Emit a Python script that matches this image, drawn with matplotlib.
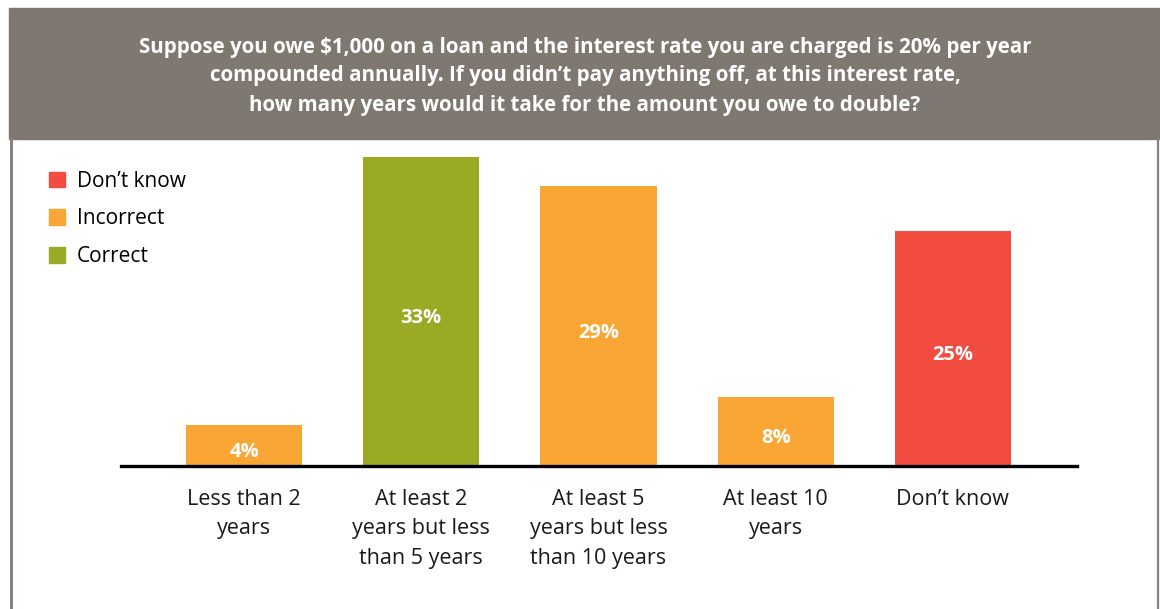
import matplotlib.pyplot as plt
from matplotlib.patches import Rectangle, Patch
from matplotlib.lines import Line2D

# data
categories = ['Less than 2\nyears', 'At least 2\nyears but less\nthan 5 years',
              'At least 5\nyears but less\nthan 10 years', 'At least 10\nyears', 'Don\u2019t know']
shares = [4.4, 32.9, 29.8, 7.3, 25.0]
shareLabels = ['4%', '33%', '29%', '8%', '25%']
answerKind = ['Incorrect', 'Correct', 'Incorrect', 'Incorrect', 'Don\u2019t know']

kindColors = {'Don\u2019t know': '#f24c40', 'Incorrect': '#f9a634', 'Correct': '#9aaa24'}
title = ('Suppose you owe $1,000 on a loan and the interest rate you are charged is 20% per year\n'
         'compounded annually. If you didn\u2019t pay anything off, at this interest rate,\n'
         'how many years would it take for the amount you owe to double?')

plt.rcParams['font.family'] = ['Open Sans', 'DejaVu Sans']

W, H = 1160, 609
fig = plt.figure(figsize=(W / 100, H / 100), dpi=100)

# header band and frame
fig.patches.append(Rectangle((9 / W, (H - 139) / H), (W - 9) / W, 131 / H,
                             transform=fig.transFigure, color='#7f7871', zorder=0))
fig.add_artist(Line2D([10.5 / W, 10.5 / W], [0, (H - 139) / H], color='#8a837d', lw=2.2))
fig.add_artist(Line2D([1158 / W, 1158 / W], [0, (H - 139) / H], color='#8a837d', lw=1.6))
fig.text(585 / W, (H - 76) / H, title, color='white', fontsize=14.8, fontweight='bold',
         ha='center', va='center', linespacing=1.5)

ax = fig.add_axes([121 / W, (H - 466) / H, (1077 - 121) / W, 309 / H])
x = list(range(len(categories)))
colors = [kindColors[k] for k in answerKind]
ax.bar(x, shares, width=0.655, color=colors, zorder=1)
ax.axhline(0, color='black', lw=2.4, zorder=3, clip_on=False)
ax.set_xlim(-0.694, 4.70)
ax.set_ylim(0, 32.9)
for xi, v, lab in zip(x, shares, shareLabels):
    ax.text(xi, v / 2 - 0.7, lab, color='white', fontsize=14.5, fontweight='bold',
            ha='center', va='center')
for xi, cat in zip(x, categories):
    ax.text(xi, -2.4, cat, ha='center', va='top', fontsize=15.5, color='#1a1a1a',
            linespacing=1.55)
for s in ax.spines.values():
    s.set_visible(False)
ax.set_xticks([])
ax.set_yticks([])

handles = [Patch(color=kindColors[k]) for k in ['Don\u2019t know', 'Incorrect', 'Correct']]
fig.legend(handles, ['Don\u2019t know', 'Incorrect', 'Correct'], loc='upper left',
           bbox_to_anchor=(30 / W, (H - 152) / H), frameon=False, fontsize=15,
           handlelength=0.8, handleheight=0.8, handletextpad=0.55, labelspacing=0.8)

fig.savefig('out.png', dpi=100, facecolor='white')
